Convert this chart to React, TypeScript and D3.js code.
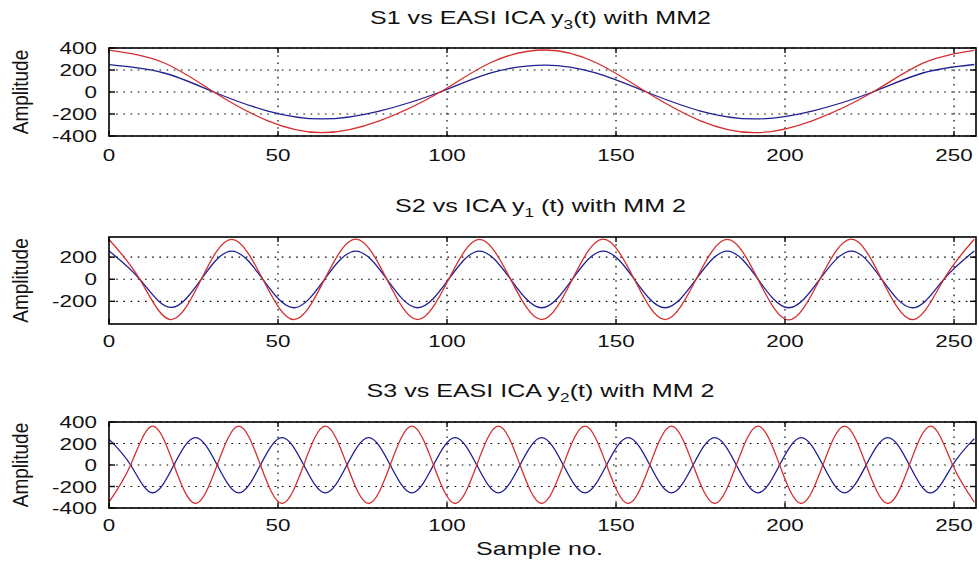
import React from 'react';
import * as d3 from 'd3';

// layout of the MATLAB figure (the source image is stretched sideways, so text is too)
const W = 979, H = 567;
const LEFT = 109, RIGHT = 976;
const STRETCH = 1.32;
const FONT = '"Liberation Sans", Arial, Helvetica, sans-serif';
const BLUE = '#1f1f92';
const RED = '#d42f2f';

const xTicks = [0, 50, 100, 150, 200, 250];
const yTicksWide = [-400, -200, 0, 200, 400];
const yTicksNarrow = [-200, 0, 200];

// panel 1 : S1 (blue) vs EASI ICA y3 (red)
const s1X = [0, 16, 31, 47, 63, 80, 98, 113, 129, 144, 159, 175, 191, 208, 226, 241, 256];
const s1Blue = [248, 175, 0, -173, -245, -173, 0, 173, 245, 173, 0, -173, -245, -173, 0, 175, 250];
const s1Red = [380, 268, 0, -262, -370, -262, 0, 268, 382, 268, 0, -262, -370, -262, 0, 265, 378];

// panel 2 : S2 (blue) vs ICA y1 (red)
const s2X = [0, 9.1, 18.2, 27.3, 36.3, 45.5, 54.7, 63.8, 73, 82.2, 91.3, 100.5, 109.6, 118.8, 128,
  137.1, 146.2, 155.4, 164.5, 173.7, 182.9, 192, 201.1, 210.3, 219.6, 228.6, 237.9, 247, 256];
const s2Blue = [255, 0, -255, 0, 255, 0, -258, 0, 255, 0, -258, 0, 255, 0, -258, 0, 255, 0, -258, 0,
  255, 0, -258, 0, 255, 0, -258, 0, 255];
const s2Red = [360, 0, -365, 0, 360, 0, -365, 0, 362, 0, -365, 0, 360, 0, -365, 0, 362, 0, -365, 0,
  360, 0, -368, 0, 362, 0, -365, 0, 362];

// panel 3 : S3 (blue) vs EASI ICA y2 (red)
const s3X = [0, 6.4, 12.8, 19.2, 25.6, 32, 38.4, 44.8, 51.2, 57.6, 64, 70.4, 76.8, 83.2, 89.6, 96,
  102.4, 108.8, 115.2, 121.6, 128, 134.4, 140.8, 147.2, 153.6, 160, 166.4, 172.8, 179.2, 185.6, 192,
  198.4, 204.8, 211.2, 217.6, 224, 230.4, 236.8, 243.2, 249.6, 256];
const s3Blue = [240, 0, -258, 0, 255, 0, -260, 0, 255, 0, -260, 0, 255, 0, -260, 0, 255, 0, -260, 0,
  255, 0, -260, 0, 255, 0, -260, 0, 255, 0, -260, 0, 255, 0, -260, 0, 255, 0, -260, 0, 245];
const s3Red = [-345, 0, 362, 0, -358, 0, 362, 0, -358, 0, 362, 0, -358, 0, 362, 0, -358, 0, 362, 0,
  -358, 0, 362, 0, -358, 0, 362, 0, -358, 0, 362, 0, -358, 0, 362, 0, -358, 0, 362, 0, -345];

const panels = [
  { title: ['S1 vs EASI ICA y', '3', '(t) with MM2'], top: 48, bottom: 136, yDomain: [-400, 400],
    yTicks: yTicksWide, xs: s1X, blue: s1Blue, red: s1Red, titleY: 24, labelGap: 25 },
  { title: ['S2 vs ICA y', '1', ' (t) with MM 2'], top: 237, bottom: 324, yDomain: [-405, 382],
    yTicks: yTicksNarrow, xs: s2X, blue: s2Blue, red: s2Red, titleY: 212, labelGap: 23 },
  { title: ['S3 vs EASI ICA y', '2', '(t) with MM 2'], top: 422, bottom: 508, yDomain: [-400, 400],
    yTicks: yTicksWide, xs: s3X, blue: s3Blue, red: s3Red, titleY: 397, labelGap: 23 },
];

const x = d3.scaleLinear().domain([0, 256.5]).range([LEFT, RIGHT]);

function Panel({ p, i }) {
  const y = d3.scaleLinear().domain(p.yDomain).range([p.bottom, p.top]);
  const line = d3.line<number>()
    .x((_, k) => x(p.xs[k]))
    .y(d => y(d))
    .curve(d3.curveNatural);
  const clipId = `clip-${i}`;
  const mid = (p.top + p.bottom) / 2;
  const cx = (LEFT + RIGHT) / 2 - 2;
  return (
    <g>
      <defs>
        <clipPath id={clipId}>
          <rect x={LEFT} y={p.top} width={RIGHT - LEFT} height={p.bottom - p.top} />
        </clipPath>
      </defs>
      {/* dotted grid */}
      <g stroke="#000" strokeWidth={1.2} strokeDasharray="1.6,5.6">
        {xTicks.filter(t => t > 0).map(t => (
          <line key={'gx' + t} x1={x(t)} x2={x(t)} y1={p.top} y2={p.bottom} />
        ))}
        {p.yTicks.map(t => (
          <line key={'gy' + t} x1={LEFT} x2={RIGHT} y1={y(t)} y2={y(t)} />
        ))}
      </g>
      <g clipPath={`url(#${clipId})`} fill="none" strokeWidth={1.3} strokeLinejoin="round">
        <path d={line(p.blue) || ''} stroke={BLUE} />
        <path d={line(p.red) || ''} stroke={RED} />
      </g>
      {/* box and inward ticks */}
      <rect x={LEFT} y={p.top} width={RIGHT - LEFT} height={p.bottom - p.top}
        fill="none" stroke="#000" strokeWidth={1.6} />
      <g stroke="#000" strokeWidth={1.4}>
        {xTicks.map(t => (
          <g key={'tx' + t}>
            <line x1={x(t)} x2={x(t)} y1={p.bottom} y2={p.bottom - 5} />
            <line x1={x(t)} x2={x(t)} y1={p.top} y2={p.top + 5} />
          </g>
        ))}
        {p.yTicks.map(t => (
          <g key={'ty' + t}>
            <line x1={LEFT} x2={LEFT + 6} y1={y(t)} y2={y(t)} />
            <line x1={RIGHT} x2={RIGHT - 6} y1={y(t)} y2={y(t)} />
          </g>
        ))}
      </g>
      {/* tick labels */}
      <g fontFamily={FONT} fontSize={17} fill="#111">
        {xTicks.map(t => (
          <text key={'lx' + t} transform={`translate(${x(t)},${p.bottom + p.labelGap}) scale(${STRETCH},1)`}
            textAnchor="middle">{t}</text>
        ))}
        {p.yTicks.map(t => (
          <text key={'ly' + t} transform={`translate(97,${y(t)}) scale(${STRETCH},1)`}
            textAnchor="end" dy="0.36em">{String(t)}</text>
        ))}
      </g>
      <text transform={`translate(28,${mid}) scale(1.15,1) rotate(-90)`} textAnchor="middle"
        fontFamily={FONT} fontSize={19} fill="#111">Amplitude</text>
      <text transform={`translate(${cx},${p.titleY}) scale(${STRETCH},1)`} textAnchor="middle"
        fontFamily={FONT} fontSize={19} fill="#111">
        {p.title[0]}
        <tspan fontSize={13} dy={5}>{p.title[1]}</tspan>
        <tspan dy={-5}>{p.title[2]}</tspan>
      </text>
    </g>
  );
}

export default function App() {
  return (
    <div style={{ position: 'absolute', left: 0, top: 0, width: W, height: H, background: '#fff' }}>
      <svg width={W} height={H} viewBox={`0 0 ${W} ${H}`} style={{ display: 'block' }}>
        <rect width={W} height={H} fill="#fff" />
        {panels.map((p, i) => <Panel key={i} p={p} i={i} />)}
        <text transform={`translate(${(LEFT + RIGHT) / 2 - 3},555) scale(${STRETCH},1)`} textAnchor="middle"
          fontFamily={FONT} fontSize={19} fill="#111">Sample no.</text>
      </svg>
    </div>
  );
}
